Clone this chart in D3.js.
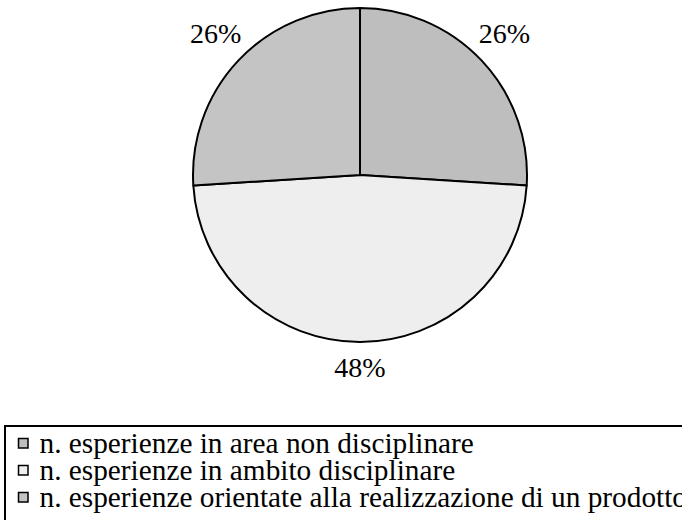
<!DOCTYPE html>
<html>
<head>
<meta charset="utf-8">
<script src="https://cdn.jsdelivr.net/npm/d3@7"></script>
<style>
  body { margin: 0; background: #fff; }
  svg { display: block; }
</style>
</head>
<body>
<svg id="chart" width="682" height="520"></svg>
<script>
let w = 682;
let h = 520;
let serif = "Liberation Serif";

// slices, clockwise from 12 o'clock
let categories = [
	"n. esperienze in area non disciplinare",
	"n. esperienze in ambito disciplinare",
	"n. esperienze orientate alla realizzazione di un prodotto"
];
let values = [26, 48, 26];
let labels = ["26%", "48%", "26%"];
let colors = ["#bebebe", "#eeeeee", "#c4c4c4"];

let cx = 360;
let cy = 175;
let r = 167;
let labelR = 198;

let svg = d3.select("#chart");

let pie = d3.pie().sort(null).value(d => d)(values);
let arc = d3.arc().innerRadius(0).outerRadius(r);
let labelArc = d3.arc().innerRadius(labelR).outerRadius(labelR);

let g = svg.append("g").attr("transform", `translate(${cx},${cy})`);

g.selectAll("path")
	.data(pie)
	.join("path")
		.attr("d", arc)
		.attr("fill", (d, i) => colors[i])
		.attr("stroke", "#000")
		.attr("stroke-width", 2)
		.attr("stroke-linejoin", "round");

g.selectAll("text")
	.data(pie)
	.join("text")
		.attr("transform", d => `translate(${labelArc.centroid(d)})`)
		.attr("text-anchor", "middle")
		.attr("dy", 4)
		.attr("font-family", serif)
		.attr("font-size", 28)
		.text((d, i) => labels[i]);

// legend, runs off the right and bottom edges
let legend = svg.append("g");
legend.append("rect")
	.attr("x", 5)
	.attr("y", 426)
	.attr("width", 720)
	.attr("height", 120)
	.attr("fill", "#fff")
	.attr("stroke", "#000")
	.attr("stroke-width", 2);

let rowY = d3.scaleLinear().domain([0, 1]).range([443, 470]);

let rows = legend.selectAll("g.row")
	.data(categories)
	.join("g")
		.attr("class", "row")
		.attr("transform", (d, i) => `translate(0,${rowY(i)})`);

rows.append("rect")
	.attr("x", 18.5)
	.attr("y", -4.5)
	.attr("width", 9.5)
	.attr("height", 9.5)
	.attr("fill", (d, i) => colors[i])
	.attr("stroke", "#000")
	.attr("stroke-width", 1.5);

rows.append("text")
	.attr("x", 39.5)
	.attr("y", 10)
	.attr("font-family", serif)
	.attr("font-size", 29.3)
	.text(d => d);
</script>
</body>
</html>
